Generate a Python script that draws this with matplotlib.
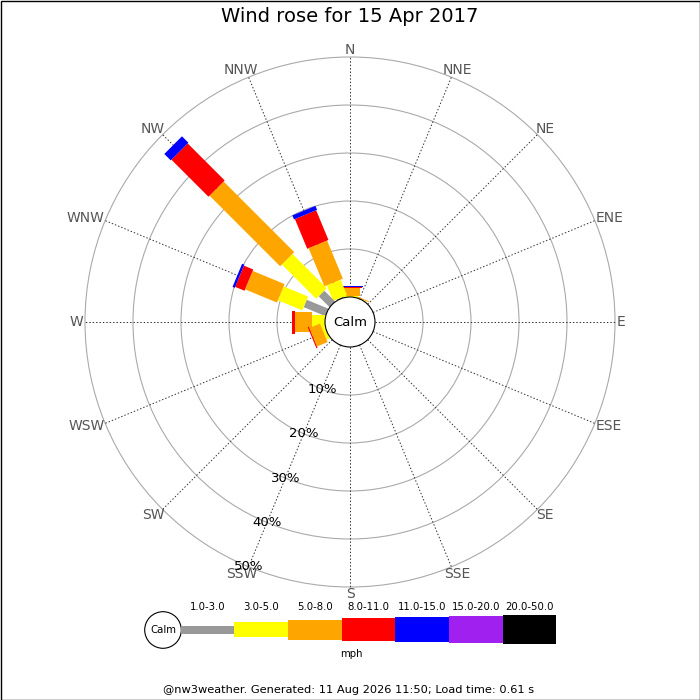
import numpy as np
import matplotlib
matplotlib.use('Agg')
import matplotlib.pyplot as plt
from matplotlib.patches import Rectangle, Circle
from matplotlib.transforms import Affine2D

# Wind rose data: percent of time per direction and speed class
directions = ['N', 'NNE', 'NE', 'ENE', 'E', 'ESE', 'SE', 'SSE',
              'S', 'SSW', 'SW', 'WSW', 'W', 'WNW', 'NW', 'NNW']
speed_classes = ['1.0-3.0', '3.0-5.0', '5.0-8.0', '8.0-11.0',
                 '11.0-15.0', '15.0-20.0', '20.0-50.0']
pct_1_3 = [0.0, 0.0, 0, 0, 0, 0, 0, 0, 0, 0, 0, 0.0, 0.0, 4.9, 3.2, 0.2]
pct_3_5 = [0.2, 0.1, 0, 0, 0, 0, 0, 0, 0, 0, 0, 0.7, 2.8, 5.5, 10.1, 3.5]
pct_5_8 = [1.6, 0.2, 0, 0, 0, 0, 0, 0, 0, 0, 0, 2.4, 3.45, 7.2, 20.8, 8.6]
pct_8_11 = [0.2, 0.0, 0, 0, 0, 0, 0, 0, 0, 0, 0, 0.25, 0.55, 2.1, 10.9, 6.7]
pct_11_15 = [0.35, 0, 0, 0, 0, 0, 0, 0, 0, 0, 0, 0, 0, 0.5, 1.9, 0.9]
pct_15_20 = [0] * 16
pct_20_50 = [0] * 16
ring_pcts = [10, 20, 30, 40, 50]
title = 'Wind rose for 15 Apr 2017'
footer = '@nw3weather. Generated: 11 Aug 2026 11:50; Load time: 0.61 s'

# styling
colors = ['#999999', '#ffff00', '#ffa500', '#ff0000', '#0000ff', '#a020f0', '#000000']
widths_px = [8, 15, 20, 23, 25, 27, 29]
PX = 4.8           # pixels per percent
CX, CY = 350, 322  # rose centre in pixels
CALM_PX = 25
LABEL_R_PX = 267

data = np.array([pct_1_3, pct_3_5, pct_5_8, pct_8_11, pct_11_15, pct_15_20, pct_20_50])
calm = CALM_PX / PX

fig = plt.figure(figsize=(7, 7), dpi=100)
ax = fig.add_axes([0, 0, 1, 1])
ax.set_xlim(0, 700)
ax.set_ylim(700, 0)
ax.axis('off')

rose = Affine2D().scale(PX, -PX).translate(CX, CY) + ax.transData

# rings
for p in ring_pcts:
    ax.add_patch(Circle((0, 0), calm + p, transform=rose, fill=False,
                        ec='#aaaaaa', lw=0.8, zorder=1))

# spokes
bearings = np.arange(16) * 22.5
outer = calm + ring_pcts[-1]
for b in bearings:
    s, c = np.sin(np.radians(b)), np.cos(np.radians(b))
    ax.plot([calm * s, outer * s], [calm * c, outer * c], transform=rose,
            color='#333333', lw=0.7, ls=(0, (1.5, 2)), zorder=2)

# direction labels: box pushed outward so its edge touches the label radius
renderer = fig.canvas.get_renderer()
for b, name in zip(bearings, directions):
    s, c = np.sin(np.radians(b)), np.cos(np.radians(b))
    t = ax.text(0, 0, name, ha='center', va='center', fontsize=10,
                color='#555555', zorder=6)
    bb = t.get_window_extent(renderer)
    w, h = bb.width, bb.height * 0.75
    t.set_position((CX + s * (LABEL_R_PX + w / 2), CY - c * (LABEL_R_PX + h / 2)))

# bars, drawn counterclockwise starting from E
order = sorted(range(16), key=lambda i: (90 - bearings[i]) % 360)
for i in order:
    start = calm
    rot = Affine2D().rotate_deg(90 - bearings[i]) + rose
    for k in range(len(speed_classes)):
        v = data[k, i]
        if v <= 0:
            continue
        w = widths_px[k] / PX
        ax.add_patch(Rectangle((start, -w / 2), v, w, transform=rot,
                               fc=colors[k], ec='none', zorder=3))
        start += v

# calm circle
ax.add_patch(Circle((0, 0), calm, transform=rose, fc='white', ec='black',
                    lw=0.8, zorder=4))
ax.text(0, 0, 'Calm', transform=rose, ha='center', va='center', fontsize=9.5, zorder=5)

# percent labels along SSW
sb, cb = np.sin(np.radians(202.5)), np.cos(np.radians(202.5))
for p in ring_pcts:
    ax.text((calm + p) * sb, (calm + p) * cb, f'{p}%', transform=rose,
            ha='center', va='center', fontsize=9.5, color='black', zorder=6)

ax.text(350, 17, title, ha='center', va='center', fontsize=14)

# legend
ax.add_patch(Circle((163, 630), 18.3, fc='white', ec='black', lw=0.8))
ax.text(163, 630, 'Calm', ha='center', va='center', fontsize=7.3)
seg = 53.7
x0 = 180.5
for k, lab in enumerate(speed_classes):
    h = widths_px[k]
    ax.add_patch(Rectangle((x0 + k * seg, 629.5 - h / 2), seg, h, fc=colors[k], ec='none'))
    ax.text(x0 + (k + 0.5) * seg, 607, lab, ha='center', va='center', fontsize=7.3)
ax.text(351, 654, 'mph', ha='center', va='center', fontsize=7.3)
ax.text(349, 690, footer, ha='center', va='center', fontsize=8.2)

ax.add_patch(Rectangle((0.5, 0.5), 699, 699, fill=False, ec='black', lw=1))

fig.savefig('out.png', dpi=100)
